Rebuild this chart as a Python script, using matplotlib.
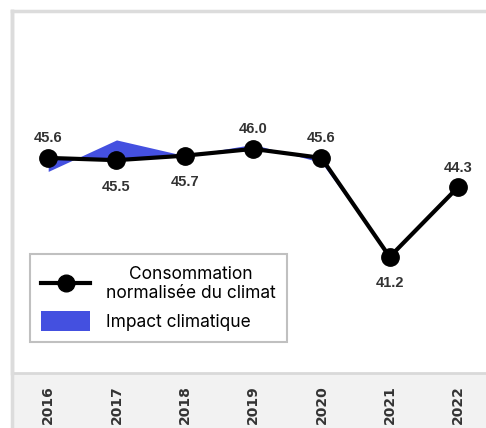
import matplotlib
matplotlib.use('Agg')
import matplotlib.pyplot as plt
from matplotlib.patches import Rectangle
from matplotlib.lines import Line2D

# donnees
years = ['2016', '2017', '2018', '2019', '2020', '2021', '2022']
conso_norm = [45.6, 45.5, 45.7, 46.0, 45.6, 41.2, 44.3]
conso_reelle = [45.0, 46.4, 45.7, 46.2, 45.4, 41.2, 44.3]
label_side = ['above', 'below', 'below', 'above', 'above', 'below', 'above']

blue = '#4450e0'
grey_line = '#dcdcdc'

fig = plt.figure(figsize=(4.86, 4.28), dpi=100)
ax = fig.add_axes([12 / 486, 1 - 373 / 428, 474 / 486, 362 / 428])

# bande grise sous l'axe
fig.add_artist(Rectangle((12 / 486, 0), 1, 55 / 428, transform=fig.transFigure,
                         facecolor='#f2f2f2', edgecolor='none', zorder=0))
fig.add_artist(Line2D([12 / 486, 12 / 486], [0, 1 - 11 / 428], transform=fig.transFigure,
                      color=grey_line, lw=2.5, zorder=1))

x = list(range(len(years)))
ax.fill_between(x, conso_norm, conso_reelle, color=blue, interpolate=True,
                linewidth=0, zorder=2)
ax.plot(x, conso_norm, color='black', lw=3, marker='o', ms=12.5, zorder=3)

for i, v in enumerate(conso_norm):
    dy = 14 if label_side[i] == 'above' else -19
    ax.annotate(f'{v:.1f}', (i, v), xytext=(0, dy), textcoords='offset points',
                ha='center', va='center', fontsize=10.5, fontweight='bold',
                family='Liberation Sans', color='#333333')

ax.set_xlim(-0.53, 6.41)
ax.set_ylim(36.04, 52.13)
ax.set_yticks([])
ax.set_xticks(x)
ax.set_xticklabels(years, rotation=90, fontsize=10, fontweight='bold', color='#333333')
ax.tick_params(axis='x', length=0, pad=9)

ax.spines['right'].set_visible(False)
ax.spines['left'].set_color(grey_line)
ax.spines['left'].set_linewidth(2.5)
ax.spines['top'].set_color(grey_line)
ax.spines['top'].set_linewidth(2.5)
ax.spines['bottom'].set_color('#d9d9d9')
ax.spines['bottom'].set_linewidth(2)

handles = [Line2D([], [], color='black', lw=3, marker='o', ms=12),
           Rectangle((0, 0), 1, 1, facecolor=blue)]
leg = ax.legend(handles, ['Consommation\nnormalisée du climat', 'Impact climatique'],
                loc='lower left', bbox_to_anchor=(0.038, 0.086), borderaxespad=0,
                fancybox=False, edgecolor='#c0c0c0', framealpha=1,
                prop={'family': 'Inter', 'size': 12.5},
                handlelength=2.8, handleheight=1.35, labelspacing=0.5,
                borderpad=0.65, handletextpad=0.9)
leg.get_frame().set_linewidth(1.5)
for t in leg.get_texts():
    t.set_multialignment('center')

plt.savefig('out.png', dpi=100)
